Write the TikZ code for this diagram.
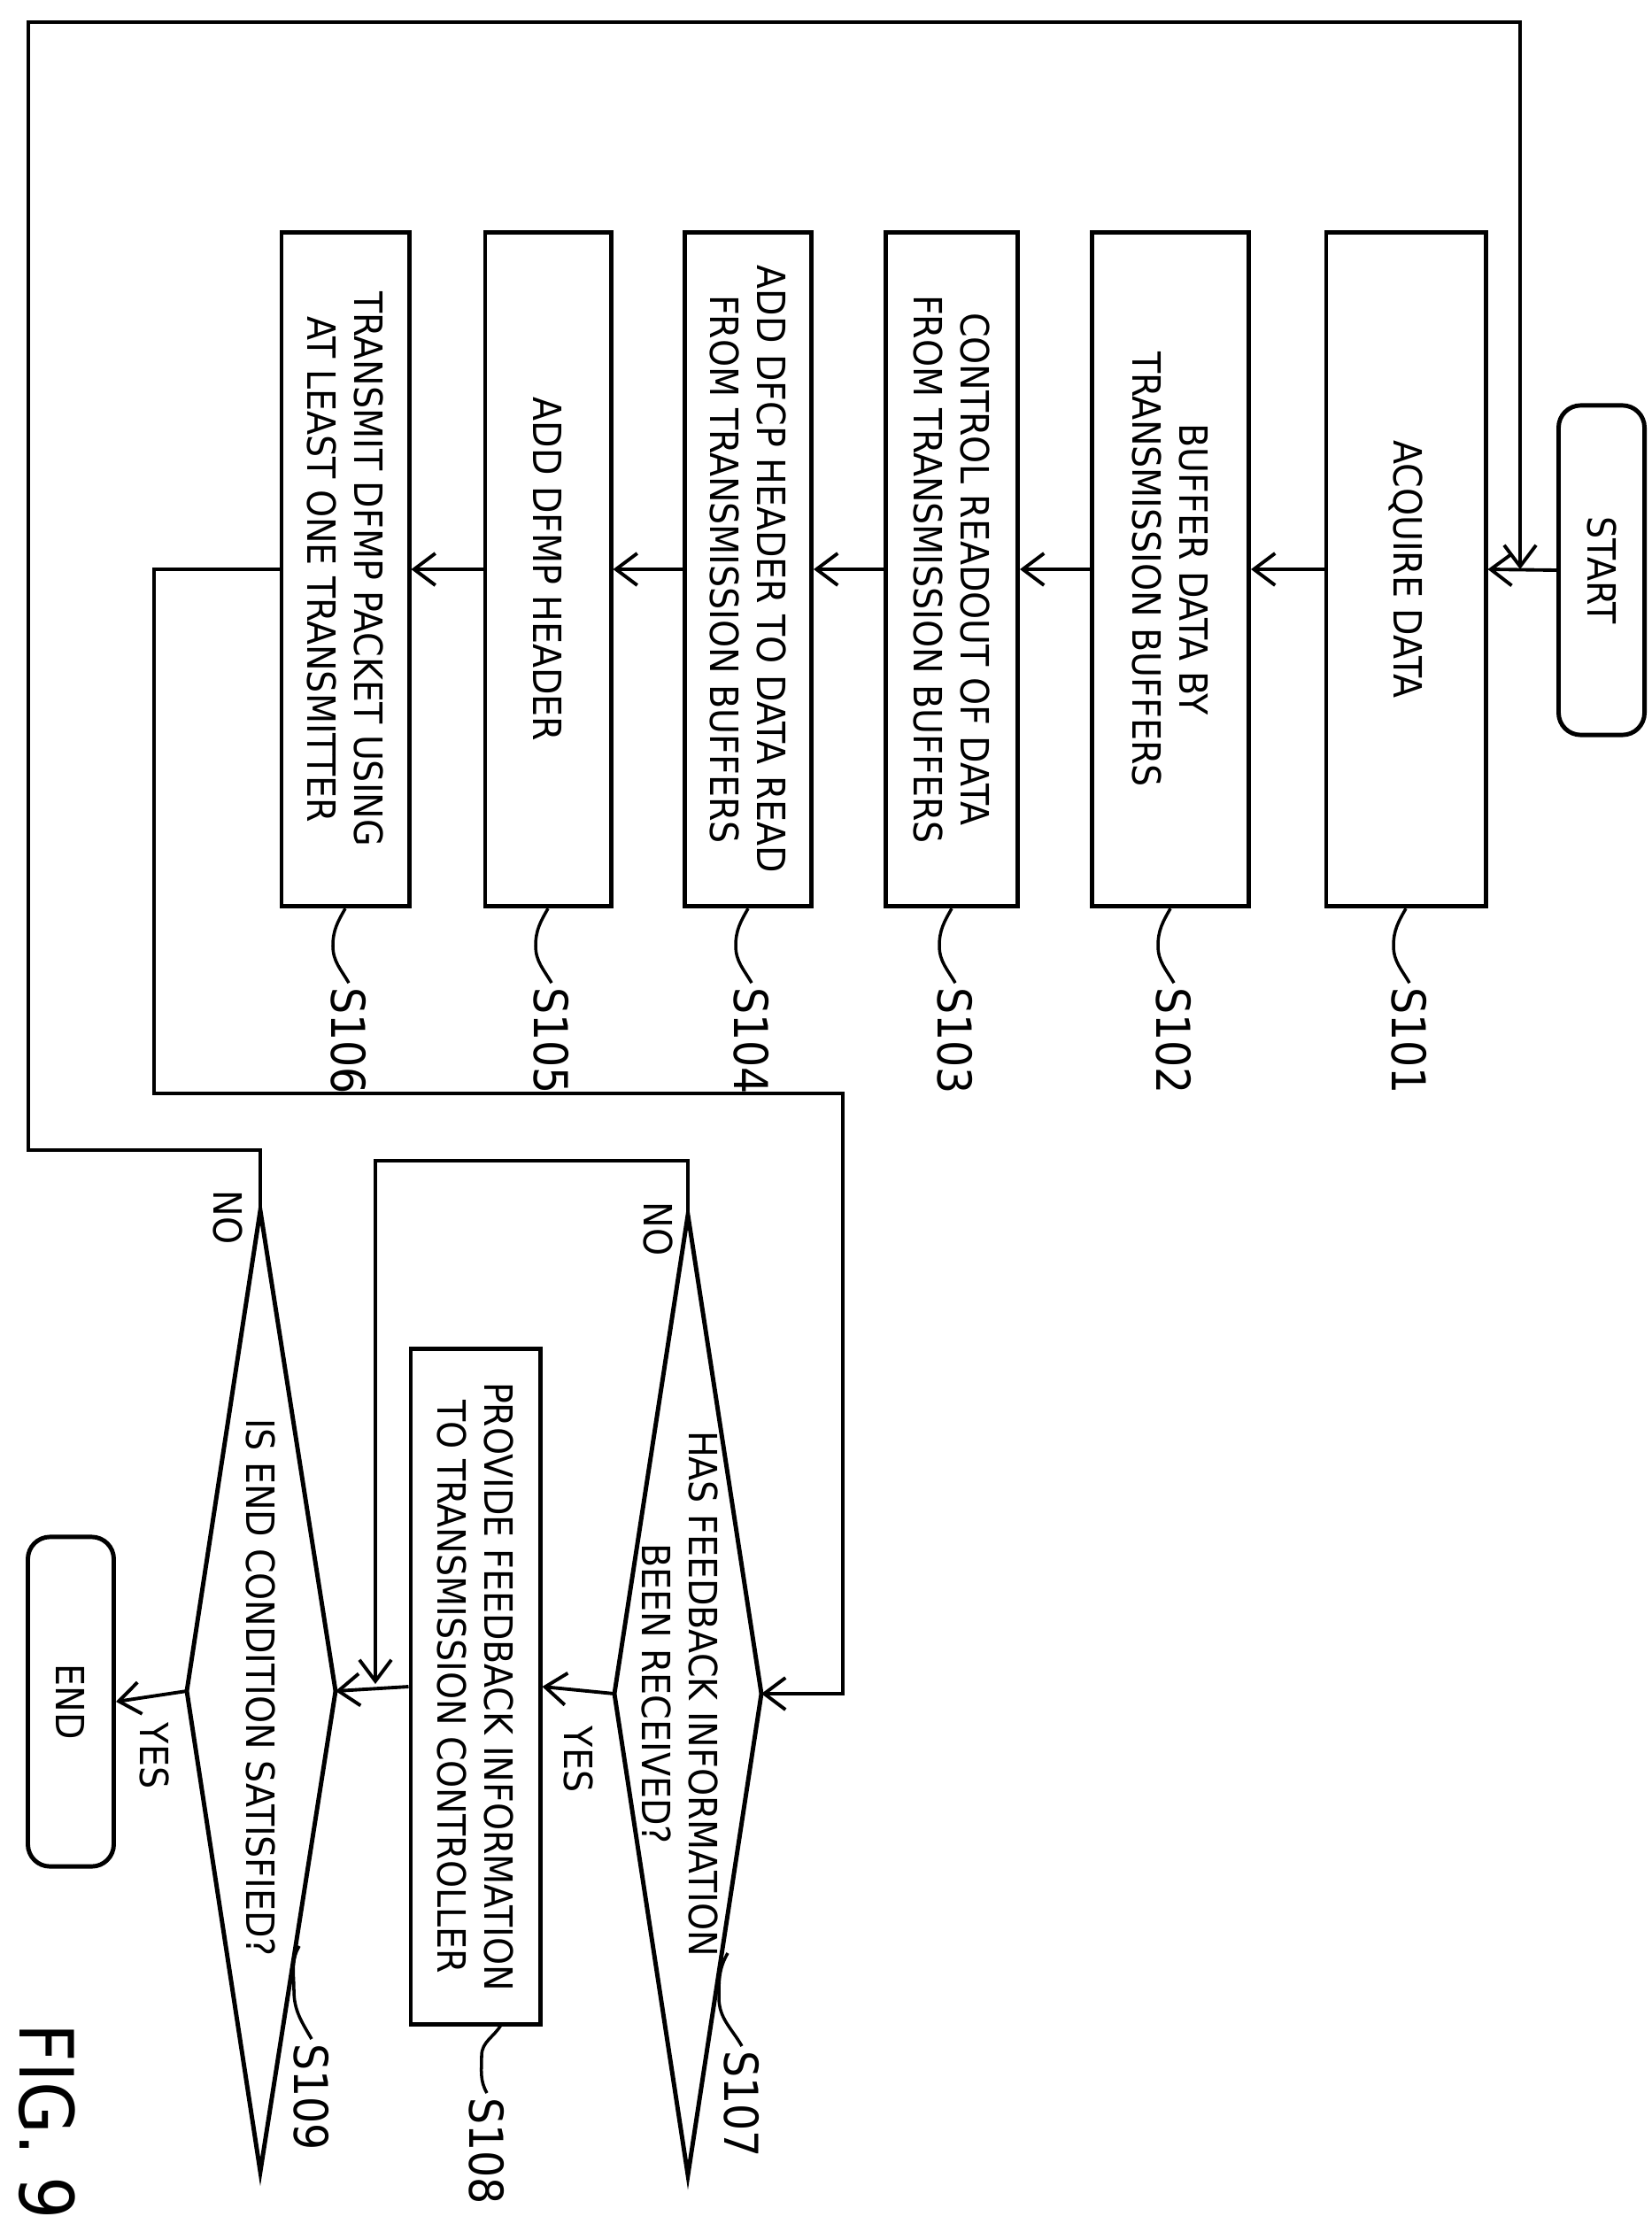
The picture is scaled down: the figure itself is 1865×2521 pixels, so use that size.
\documentclass[tikz,border=0pt]{standalone}
\usepackage{fontspec}
\setmainfont{DejaVu Sans Condensed}
\usetikzlibrary{arrows.meta}
\tikzset{
  flow/.style={line width=1.1pt},
  arr/.style={flow, -{Straight Barb[length=2.4mm, width=3.6mm, line width=1.1pt]}},
  box/.style={draw, line width=1.4pt, rectangle, rotate=-90, minimum width=7.61cm, align=center, inner sep=0pt, font=\fontsize{12.5}{15}\selectfont},
  term/.style={box, rounded corners=2.5mm, minimum width=3.72cm, minimum height=0.97cm},
  txt/.style={rotate=-90, align=center, font=\fontsize{12.5}{15}\selectfont},
  stepno/.style={rotate=-90, anchor=west, inner sep=1pt, font=\fontsize{15}{17}\selectfont},
  squig/.style={line width=1pt}
}
\begin{document}
\begin{tikzpicture}[x=0.01cm, y=0.01cm]
 \useasboundingbox (0,0) rectangle (1865,-2521);
 % main column
 \node (start) [term] at (1809,-644) {START};
 \node (acq) [box, minimum height=1.80cm] at (1588,-643) {ACQUIRE DATA};
 \node (buf) [box, minimum height=1.77cm] at (1322,-643) {BUFFER DATA BY\\TRANSMISSION BUFFERS};
 \node (ctl) [box, minimum height=1.49cm] at (1075,-643) {CONTROL READOUT OF DATA\\FROM TRANSMISSION BUFFERS};
 \node (dfcp) [box, minimum height=1.43cm] at (845,-643) {ADD DFCP HEADER TO DATA READ\\FROM TRANSMISSION BUFFERS};
 \node (dfmp) [box, minimum height=1.42cm] at (619,-643) {ADD DFMP HEADER};
 \node (tx) [box, minimum height=1.44cm] at (390,-643) {TRANSMIT DFMP PACKET USING\\AT LEAST ONE TRANSMITTER};
 \draw[arr] (start.south) -- (acq.north);
 \draw[arr] (acq.south) -- (buf.north);
 \draw[arr] (buf.south) -- (ctl.north);
 \draw[arr] (ctl.south) -- (dfcp.north);
 \draw[arr] (dfcp.south) -- (dfmp.north);
 \draw[arr] (dfmp.south) -- (tx.north);
 % decisions
 \coordinate (q7t) at (777,-1372); \coordinate (q7b) at (777,-2457);
 \coordinate (q7l) at (694,-1913); \coordinate (q7r) at (860,-1913);
 \draw[line width=1.4pt] (q7t) -- (q7r) -- (q7b) -- (q7l) -- cycle;
 \node (q7) [txt] at (768,-1913) {HAS FEEDBACK INFORMATION\\BEEN RECEIVED?};
 \node (fb) [box, minimum width=7.63cm, minimum height=1.46cm] at (537,-1905) {PROVIDE FEEDBACK INFORMATION\\TO TRANSMISSION CONTROLLER};
 \coordinate (q9t) at (294,-1367); \coordinate (q9b) at (294,-2453);
 \coordinate (q9l) at (211,-1910); \coordinate (q9r) at (379,-1910);
 \draw[line width=1.4pt] (q9t) -- (q9r) -- (q9b) -- (q9l) -- cycle;
 \node (q9) [txt] at (294,-1906) {IS END CONDITION SATISFIED?};
 \node (end) [term] at (80,-1922) {END};
 % connectors
 \draw[arr] (tx.south) -- (174,-643) -- (174,-1235) -- (952,-1235) -- (952,-1913) -- (q7r);
 \draw[arr] (q7l) -- (fb.north);
 \coordinate (j8) at (424,-1902);
 \draw[arr] (q7t) -- (777,-1311) -- (424,-1311) -- (j8);
 \draw[arr] (fb.south) -- (q9r);
 \draw[arr] (q9l) -- (end.north);
 \coordinate (j1) at (1717,-643);
 \draw[arr] (q9t) -- (294,-1299) -- (32,-1299) -- (32,-25) -- (1717,-25) -- (j1);
 \node (y7) [txt] at (653,-1987) {YES};
 \node (n7) [txt] at (743,-1388) {NO};
 \node (y9) [txt] at (174,-1983) {YES};
 \node (n9) [txt] at (257,-1375) {NO};
 % step marks
 \foreach \b/\s in {acq/S101, buf/S102, ctl/S103, dfcp/S104, dfmp/S105, tx/S106}
   \draw[squig] (\b.east) to[out=-120,in=90] ++(-14,-42) to[out=-90,in=120] ++(18,-42)
     node[stepno] {\s};
 \coordinate (m7) at (822,-2206);
 \coordinate (m8) at (566,-2287);
 \coordinate (m9) at (338,-2198);
 \draw[squig] (m7) to[out=-120,in=90] ++(-10,-50) to[out=-90,in=120] ++(26,-55) node[stepno] {S107};
 \draw[squig] (m8) to[out=-120,in=90] ++(-22,-35) to[out=-90,in=120] ++(6,-42) node[stepno] {S108};
 \draw[squig] (m9) to[out=-120,in=90] ++(-6,-50) to[out=-90,in=120] ++(20,-55) node[stepno] {S109};
 \node (fig) [rotate=-90, font=\fontsize{24}{26}\selectfont] at (53,-2396) {FIG. 9};
\end{tikzpicture}
\end{document}
